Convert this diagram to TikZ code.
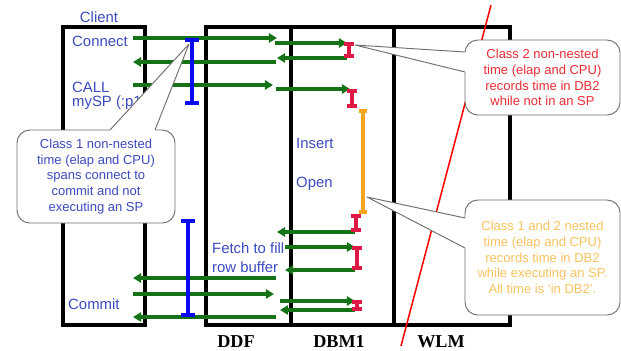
\documentclass[tikz,border=0pt]{standalone}
\usepackage{fontspec}
\setmainfont{Liberation Sans}
\newfontfamily\laneserif{Liberation Serif}
\usetikzlibrary{arrows.meta}
\definecolor{msggreen}{RGB}{20,115,20}
\definecolor{textblue}{RGB}{60,75,190}
\definecolor{beamblue}{RGB}{10,10,240}
\definecolor{beamred}{RGB}{222,25,70}
\definecolor{beamorange}{RGB}{250,165,30}
\definecolor{notered}{RGB}{235,45,55}
\definecolor{noteorange}{RGB}{250,195,95}
\definecolor{notegray}{RGB}{110,110,110}
\tikzset{
  laneframe/.style={
    draw=black,
    line width=3pt
  },
  lanetext/.style={
    text=textblue,
    anchor=base west,
    inner sep=0pt,
    font=\fontsize{12.7}{14.5}\selectfont
  },
  lanelabel/.style={
    anchor=base,
    inner sep=0pt,
    font=\laneserif\bfseries\fontsize{15.5}{17}\selectfont
  },
  msgarrow/.style={
    draw=msggreen,
    line width=3pt,
    -{Triangle[length=7pt,width=8pt]}
  },
  blueibeam/.style={
    draw=beamblue,
    line width=3.2pt,
    {Bar[width=12pt]}-{Bar[width=12pt]}
  },
  redibeam/.style={
    draw=beamred,
    line width=3.2pt,
    {Bar[width=9pt]}-{Bar[width=9pt]}
  },
  orangeibeam/.style={
    draw=beamorange,
    line width=3.2pt,
    {Bar[width=7pt]}-{Bar[width=7pt]}
  },
  slashline/.style={
    draw=red,
    line width=1.3pt
  },
  notebox/.style={
    draw=notegray,
    line width=0.8pt,
    fill=white,
    rounded corners=11pt,
    align=center,
    inner sep=0pt,
    font=\fontsize{11.1}{13.5}\selectfont
  },
  noteedge/.style={
    draw=notegray,
    line width=0.8pt,
    line join=round
  }
}
\begin{document}
\begin{tikzpicture}[x=0.03cm, y=-0.03cm]
  \useasboundingbox (0,0) rectangle (621,350);
  % lanes
  \draw[laneframe, fill=white] (63,27) rectangle (145,325);
  \draw[laneframe] (206,27) rectangle (510,325);
  \draw[laneframe] (291,27) -- (291,325);
  \draw[laneframe] (394,27) -- (394,325);
  \node[lanetext, anchor=base] (client) at (99,22) {Client};
  \node[lanelabel] (ddf) at (236,347) {DDF};
  \node[lanelabel] (dbm) at (339,347) {DBM1};
  \node[lanelabel] (wlm) at (441,347) {WLM};
  % texts in the lanes
  \node[lanetext] (connect) at (72,46) {Connect};
  \node[lanetext] (call) at (72,92) {CALL};
  \node[lanetext] (mysp) at (72,106) {mySP (:p1};
  \node[lanetext] (commit) at (68,309) {Commit};
  \node[lanetext] (insert) at (296,148) {Insert};
  \node[lanetext] (open) at (296,187) {Open};
  \node[lanetext] (fetch) at (212,253) {Fetch to fill};
  \node[lanetext] (rowbuf) at (212,272) {row buffer};
  % client <-> DDF
  \foreach \y/\xa/\xb in {38/133/277, 85/133/273, 294/133/274,
                          62/276/133, 278/276/133, 317/276/133}
    \draw[msgarrow] (\xa,\y) -- (\xb,\y);
  % DDF <-> DBM1
  \foreach \y/\xa/\xb in {43/275/347, 89/276/350, 247/285/355, 301/280/355,
                          58/347/277, 232/355/277, 270/355/285, 310/355/280}
    \draw[msgarrow] (\xa,\y) -- (\xb,\y);
  % time spans
  \draw[blueibeam] (192,38) -- (192,105);
  \draw[blueibeam] (188,219) -- (188,317);
  \draw[redibeam] (349,42) -- (349,58);
  \draw[redibeam] (352,89) -- (352,108);
  \draw[orangeibeam] (363,109) -- (363,214);
  \draw[redibeam] (356,214) -- (356,232);
  \draw[redibeam] (357,246) -- (357,270);
  \draw[redibeam] (357,300) -- (357,311);
  \draw[slashline] (491,5) -- (401,346);
  % callouts
  \coordinate (tipone) at (189,44);
  \coordinate (tiptwo) at (355,45);
  \coordinate (tipnest) at (367,197);
  \node[notebox, text=textblue, minimum width=4.74cm, minimum height=2.79cm]
    (classone) at (96,176.5) {Class 1 non-nested\\time (elap and CPU)\\spans connect to\\commit and not\\executing an SP};
  \fill[white] (110,130) -- (tipone) -- (155,130) -- (155,134) -- (110,134) -- cycle;
  \draw[noteedge] (110,130) -- (tipone) -- (155,130);
  \node[notebox, text=notered, minimum width=4.65cm, minimum height=2.25cm]
    (classtwo) at (542.5,77.5) {Class 2 non-nested\\time (elap and CPU)\\records time in DB2\\while not in an SP};
  \fill[white] (465,52) -- (tiptwo) -- (465,72) -- (469,72) -- (469,52) -- cycle;
  \draw[noteedge] (465,52) -- (tiptwo) -- (465,72);
  \node[notebox, text=noteorange, minimum width=4.65cm, minimum height=3.45cm]
    (classnest) at (542.5,257.5) {Class 1 and 2 nested\\time (elap and CPU)\\records time in DB2\\while executing an SP.\\All time is ‘in DB2’.};
  \fill[white] (465,218) -- (tipnest) -- (465,248) -- (469,248) -- (469,218) -- cycle;
  \draw[noteedge] (465,218) -- (tipnest) -- (465,248);
\end{tikzpicture}
\end{document}
